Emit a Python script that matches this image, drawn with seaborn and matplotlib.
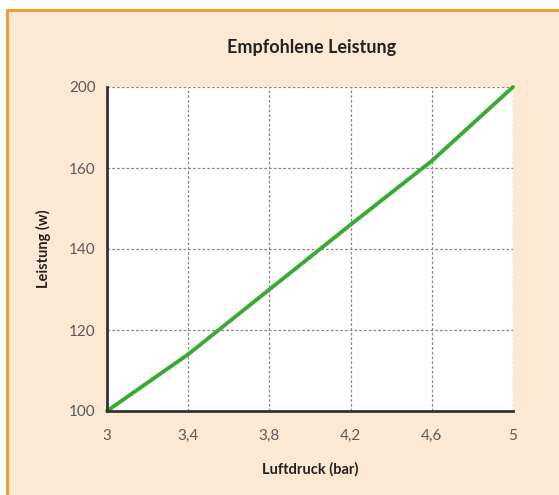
import numpy as np
import pandas as pd
import seaborn as sns
import matplotlib
matplotlib.use("Agg")
import matplotlib.pyplot as plt
from matplotlib.patches import Rectangle

# Recommended power vs. air pressure
luftdruck = [3.0, 3.4, 3.8, 4.2, 4.6, 5.0]
leistung = [100, 114, 130, 146, 163.5, 200]

x_ticks = [3.0, 3.4, 3.8, 4.2, 4.6, 5.0]
x_tick_labels = ["3", "3,4", "3,8", "4,2", "4,6", "5"]
y_ticks = [100, 120, 140, 160, 200]
y_tick_labels = ["100", "120", "140", "160", "200"]

df = pd.DataFrame({"Luftdruck": luftdruck, "Leistung": leistung})

sns.set_theme(style="white")
plt.rcParams["font.family"] = ["Lato", "DejaVu Sans"]

W, H = 559, 495
fig = plt.figure(figsize=(W / 100, H / 100), dpi=100, facecolor="white")

# peach panel with orange frame (bottom/right edges run off the canvas)
panel = Rectangle((7 / W, -0.1), 1.2, 1.1 - 10 / H, transform=fig.transFigure,
                  facecolor="#FDE9D3", edgecolor="#F39A1E", linewidth=2,
                  zorder=-10)
fig.patches.append(panel)

ax = fig.add_axes([107 / W, 1 - 411 / H, (513 - 107) / W, (411 - 87) / H])
ax.set_zorder(2)
ax.set_facecolor("white")

# y axis: evenly spaced bands between the labelled ticks
band_pos = np.arange(len(y_ticks), dtype=float)


def fwd(v):
    return np.interp(v, y_ticks, band_pos)


def inv(b):
    return np.interp(b, band_pos, y_ticks)


ax.set_yscale("function", functions=(fwd, inv))

sns.lineplot(data=df, x="Luftdruck", y="Leistung", ax=ax,
             color="#3AAA35", linewidth=2.8, zorder=3, clip_on=False)

ax.set_xlim(3, 5)
ax.set_ylim(100, 200)
ax.set_xticks(x_ticks)
ax.set_xticklabels(x_tick_labels)
ax.set_yticks(y_ticks)
ax.set_yticklabels(y_tick_labels)
ax.yaxis.set_minor_locator(matplotlib.ticker.NullLocator())

ax.grid(True, color="#8a8a8a", linestyle=(0, (2.2, 1.6)), linewidth=0.9)
for s in ("top", "right"):
    ax.spines[s].set_visible(False)
for s in ("left", "bottom"):
    ax.spines[s].set_color("#333333")
    ax.spines[s].set_linewidth(2)
    ax.spines[s].set_zorder(4)

ax.tick_params(axis="both", length=0, labelsize=11, labelcolor="#5a5a5a")
ax.tick_params(axis="y", pad=8)
ax.tick_params(axis="x", pad=13)

ax.set_xlabel("Luftdruck (bar)", fontsize=10.5, fontweight="bold",
              color="#222222", labelpad=14)
ax.set_ylabel("Leistung (w)", fontsize=10.5, fontweight="bold",
              color="#222222", labelpad=13)

fig.text(312 / W, 1 - 47 / H, "Empfohlene Leistung", ha="center", va="center",
         fontsize=13, fontweight="bold", color="#222222")

fig.savefig("out.png", dpi=100, facecolor=fig.get_facecolor())
